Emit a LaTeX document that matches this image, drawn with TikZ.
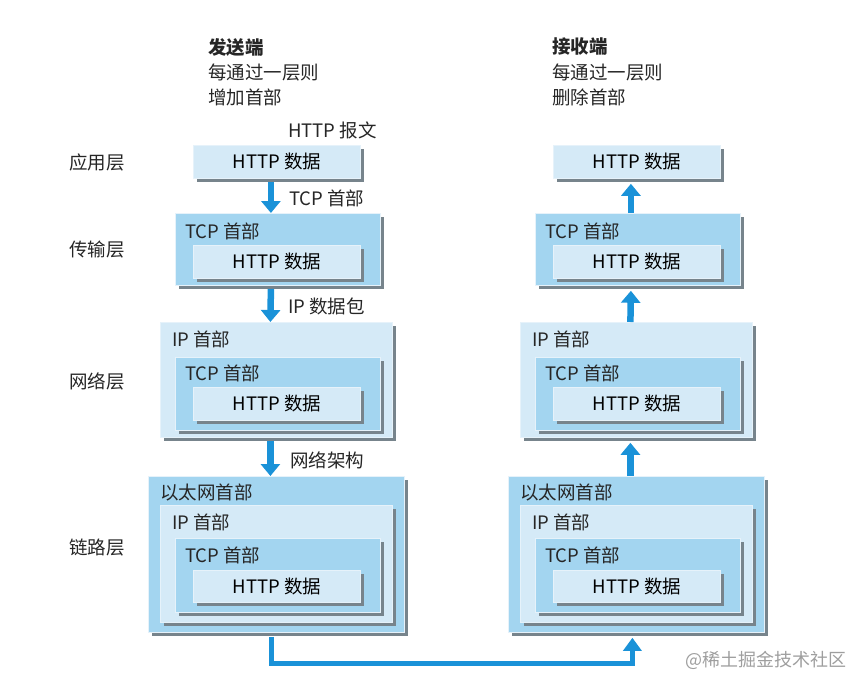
\documentclass[tikz,border=0pt]{standalone}
\usepackage{fontspec}
\setmainfont{Noto Sans CJK SC}
\usetikzlibrary{shadows,arrows.meta}
\definecolor{lightb}{HTML}{D5EAF7}
\definecolor{midb}{HTML}{A3D5F0}
\definecolor{shad}{HTML}{77848C}
\definecolor{arrc}{HTML}{1A92D8}
\begin{document}
\begin{tikzpicture}[x=1pt,y=-1pt,
  box/.style={anchor=north west, inner sep=0, draw=white!40!lightb, line width=0.8pt,
    drop shadow={shadow xshift=4pt, shadow yshift=-4pt, fill=shad, opacity=1},
    font=\fontsize{18.5}{20}\selectfont},
  lbox/.style={box, fill=lightb},
  mbox/.style={box, fill=midb},
  txt/.style={font=\fontsize{18.5}{20}\selectfont, inner sep=0, anchor=west, text=black!85},
  hdr/.style={txt, anchor=west},
  uparr/.style={line width=6.5pt, arrc, -{Triangle[width=19pt,length=12pt]}},
  link/.style={line width=5pt, arrc, -{Triangle[width=18pt,length=13pt]}}
]
\useasboundingbox (0,0) rectangle (867,690);

% ---------- headers ----------
\node[txt, font=\fontsize{18.5}{20}\selectfont\bfseries] (sendt) at (208,47) {发送端};
\node[txt] (send1) at (208,72) {每通过一层则};
\node[txt] (send2) at (208,97) {增加首部};
\node[txt, font=\fontsize{18.5}{20}\selectfont\bfseries] (recvt) at (552,47) {接收端};
\node[txt] (recv1) at (552,72) {每通过一层则};
\node[txt] (recv2) at (552,97) {删除首部};
\node[txt] (msg) at (288,130) {HTTP 报文};

% ---------- layer labels ----------
\node[txt] (lapp) at (69,162) {应用层};
\node[txt] (ltra) at (69,250) {传输层};
\node[txt] (lnet) at (69,381) {网络层};
\node[txt] (llnk) at (69,548) {链路层};

% ---------- left column ----------
\node[lbox, minimum width=167pt, minimum height=33pt] (hA) at (193,145) {HTTP 数据};

\node[mbox, minimum width=205pt, minimum height=72pt] (tB) at (175,213) {};
\node[hdr] (tBl) at (185,231) {TCP 首部};
\node[lbox, minimum width=167pt, minimum height=33pt] (hB) at (193,245) {HTTP 数据};

\node[lbox, minimum width=232pt, minimum height=115pt] (iC) at (160,322) {};
\node[hdr] (iCl) at (172,339) {IP 首部};
\node[mbox, minimum width=205pt, minimum height=73pt] (tC) at (175,357) {};
\node[hdr] (tCl) at (185,373) {TCP 首部};
\node[lbox, minimum width=167pt, minimum height=33pt] (hC) at (193,387) {HTTP 数据};

\node[mbox, minimum width=256pt, minimum height=156pt] (eD) at (148,476) {};
\node[hdr] (eDl) at (160,492) {以太网首部};
\node[lbox, minimum width=232pt, minimum height=117pt] (iD) at (160,505) {};
\node[hdr] (iDl) at (172,522) {IP 首部};
\node[mbox, minimum width=205pt, minimum height=74pt] (tD) at (175,538) {};
\node[hdr] (tDl) at (185,555) {TCP 首部};
\node[lbox, minimum width=167pt, minimum height=32pt] (hD) at (193,570) {HTTP 数据};

% ---------- right column ----------
\node[lbox, minimum width=167pt, minimum height=33pt] (rhA) at (553,145) {HTTP 数据};

\node[mbox, minimum width=205pt, minimum height=72pt] (rtB) at (535,213) {};
\node[hdr] (rtBl) at (545,231) {TCP 首部};
\node[lbox, minimum width=167pt, minimum height=33pt] (rhB) at (553,245) {HTTP 数据};

\node[lbox, minimum width=232pt, minimum height=115pt] (riC) at (520,322) {};
\node[hdr] (riCl) at (532,339) {IP 首部};
\node[mbox, minimum width=205pt, minimum height=73pt] (rtC) at (535,357) {};
\node[hdr] (rtCl) at (545,373) {TCP 首部};
\node[lbox, minimum width=167pt, minimum height=33pt] (rhC) at (553,387) {HTTP 数据};

\node[mbox, minimum width=256pt, minimum height=156pt] (reD) at (508,476) {};
\node[hdr] (reDl) at (520,492) {以太网首部};
\node[lbox, minimum width=232pt, minimum height=117pt] (riD) at (520,505) {};
\node[hdr] (riDl) at (532,522) {IP 首部};
\node[mbox, minimum width=205pt, minimum height=74pt] (rtD) at (535,538) {};
\node[hdr] (rtDl) at (545,555) {TCP 首部};
\node[lbox, minimum width=167pt, minimum height=32pt] (rhD) at (553,570) {HTTP 数据};

% ---------- down arrows (sender) ----------
\draw[uparr] ([xshift=-6pt,yshift=-3pt]hA.south) -- ([xshift=-7pt]tB.north);
\node[txt] (aB) at (289,198) {TCP 首部};
\draw[uparr] ([xshift=-7pt,yshift=-3pt]tB.south) -- ([xshift=-6pt]iC.north);
\node[txt] (aC) at (288,306) {IP 数据包};
\draw[uparr] ([xshift=-6pt,yshift=-3pt]iC.south) -- ([xshift=-6pt]eD.north);
\node[txt] (aD) at (290,460) {网络架构};

% ---------- up arrows (receiver) ----------
\draw[uparr] ([xshift=-7pt]rtB.north) -- ([xshift=-6pt,yshift=-5pt]rhA.south);
\draw[uparr] ([xshift=-6pt]riC.north) -- ([xshift=-7pt,yshift=-5pt]rtB.south);
\draw[uparr] ([xshift=-6pt]reD.north) -- ([xshift=-6pt,yshift=-5pt]riC.south);

% ---------- physical link ----------
\draw[link] ([xshift=-5pt,yshift=-4pt]eD.south) -- ++(0,27) -| ([xshift=-4pt,yshift=-5pt]reD.south);

% ---------- watermark ----------
\node[txt, font=\fontsize{18}{20}\selectfont, text=black!38] (wm) at (685,660) {@稀土掘金技术社区};
\end{tikzpicture}
\end{document}
